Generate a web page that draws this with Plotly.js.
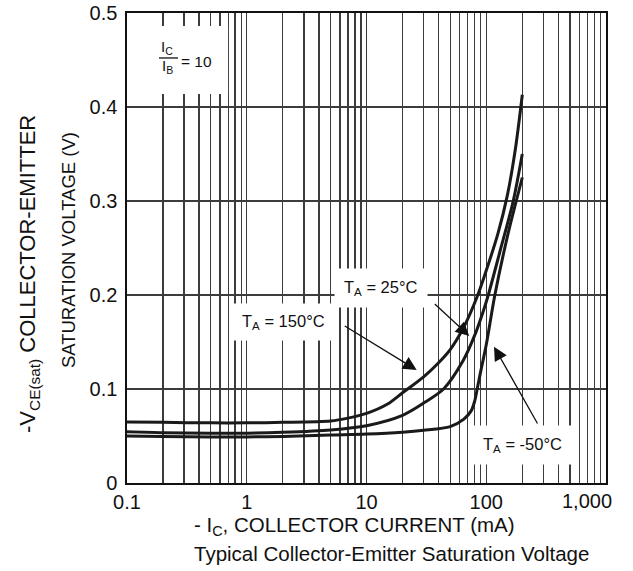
<!DOCTYPE html>
<html>
<head>
<meta charset="utf-8">
<script src="https://cdn.plot.ly/plotly-3.0.1.min.js"></script>
<style>
html,body{margin:0;padding:0;background:#fff;}
#chart{width:633px;height:571px;}
</style>
</head>
<body>
<div id="chart"></div>
<script>
// ---- data (collector current in mA, saturation voltage in V) ----
var ic150  = [0.1, 0.2, 0.5, 1, 2, 5, 7, 10, 15, 20, 30, 40, 50, 65, 85, 100, 125, 150, 175, 200];
var vce150 = [0.065, 0.0645, 0.064, 0.064, 0.0645, 0.066, 0.069, 0.074, 0.084, 0.096, 0.113, 0.128, 0.142, 0.166, 0.200, 0.226, 0.265, 0.306, 0.355, 0.413];

var ic25  = [0.1, 0.2, 0.5, 1, 2, 5, 10, 20, 30, 44, 64, 80, 94, 104, 130, 168, 200];
var vce25 = [0.0545, 0.0535, 0.053, 0.053, 0.054, 0.0565, 0.061, 0.072, 0.085, 0.100, 0.130, 0.157, 0.182, 0.200, 0.246, 0.300, 0.350];

var icm50  = [0.1, 0.2, 0.5, 1, 2, 5, 10, 20, 30, 50, 65, 75, 80, 84, 90, 100, 118, 150, 178, 200];
var vcem50 = [0.050, 0.0495, 0.049, 0.049, 0.0495, 0.051, 0.052, 0.054, 0.056, 0.060, 0.068, 0.077, 0.087, 0.100, 0.119, 0.147, 0.200, 0.262, 0.300, 0.325];

var xTickVals   = [0.1, 1, 10, 100, 1000];
var xTickLabels = ['0.1', '1', '10', '100', '1,000'];
var yTickVals   = [0, 0.1, 0.2, 0.3, 0.4, 0.5];
var yTickLabels = ['0', '0.1', '0.2', '0.3', '0.4', '0.5'];

// ---- grid values for the log axis (1..9 per decade) ----
var gridVals = [], gridText = [];
[0.1, 1, 10, 100].forEach(function (d) {
  for (var m = 1; m <= 9; m++) {
    var v = +(d * m).toPrecision(3);
    gridVals.push(v);
    var k = xTickVals.indexOf(v);
    gridText.push(k >= 0 ? xTickLabels[k] : '');
  }
});
gridVals.push(1000); gridText.push(''); // last label placed as annotation (kept inside the frame)

var FONT = 'Liberation Sans, Arial, sans-serif';
var INK = '#111';
var curve = {color: '#1a1a1a', width: 3, shape: 'spline', smoothing: 0.8};

var traces = [
  {x: ic150, y: vce150, mode: 'lines', line: curve, name: 'TA = 150°C'},
  {x: ic25,  y: vce25,  mode: 'lines', line: curve, name: 'TA = 25°C'},
  {x: icm50, y: vcem50, mode: 'lines', line: curve, name: 'TA = -50°C'}
];

var gridColor = '#3c3c3c';
var arrowStyle = {showarrow: true, arrowhead: 2, arrowsize: 2.1, arrowwidth: 1.3, arrowcolor: INK, text: ''};
function arrow(x, y, ax, ay) {
  return Object.assign({xref: 'x', yref: 'y', axref: 'x', ayref: 'y', x: x, y: y, ax: ax, ay: ay}, arrowStyle);
}

var layout = {
  width: 633, height: 571,
  margin: {l: 127, r: 27, t: 13, b: 88, pad: 0},
  paper_bgcolor: '#fff', plot_bgcolor: '#fff',
  showlegend: false,
  font: {family: FONT, size: 20, color: INK},
  xaxis: {
    type: 'log', range: [-1, 3],
    tickmode: 'array', tickvals: gridVals, ticktext: gridText, tickangle: 0,
    ticks: '', showgrid: true, gridcolor: gridColor, gridwidth: 1.4,
    showline: true, linecolor: INK, linewidth: 1.6, mirror: true,
    zeroline: false, tickfont: {family: FONT, size: 20, color: INK},
    ticklabelstandoff: 0
  },
  yaxis: {
    range: [0, 0.5],
    tickmode: 'array', tickvals: yTickVals, ticktext: yTickLabels, tickangle: 0,
    ticks: '', showgrid: true, gridcolor: gridColor, gridwidth: 1.4,
    showline: true, linecolor: INK, linewidth: 1.6, mirror: true,
    zeroline: false, tickfont: {family: FONT, size: 20, color: INK},
    ticklabelstandoff: 4
  },
  shapes: [
    // white box behind IC/IB label
    {type: 'rect', xref: 'paper', yref: 'paper', x0: 0.048, x1: 0.211, y0: 0.8277, y1: 0.9723,
     fillcolor: '#ffffff', line: {width: 0}, layer: 'above'},
    // fraction bar
    {type: 'line', xref: 'paper', yref: 'paper', x0: 0.0668, x1: 0.1065, y0: 0.9043, y1: 0.9043,
     line: {color: INK, width: 1.3}, layer: 'above'}
  ],
  annotations: [
    // last x tick label
    {xref: 'x', yref: 'paper', x: 3, y: 0, xanchor: 'center', yanchor: 'top', xshift: -19, yshift: -5,
     text: xTickLabels[4], showarrow: false, font: {family: FONT, size: 20, color: INK}},
    // axis titles
    {xref: 'paper', yref: 'paper', x: 0.475, y: -0.091, xanchor: 'center', yanchor: 'middle',
     text: '- I<sub>C</sub>, COLLECTOR CURRENT (mA)', showarrow: false, font: {family: FONT, size: 20.5, color: INK}},
    {xref: 'paper', yref: 'paper', x: 0.553, y: -0.151, xanchor: 'center', yanchor: 'middle',
     text: 'Typical Collector-Emitter Saturation Voltage', showarrow: false, font: {family: FONT, size: 20.5, color: INK}},
    {xref: 'paper', yref: 'paper', x: -0.2046, y: 0.4447, xanchor: 'center', yanchor: 'middle', textangle: -90,
     text: '-V<sub>CE(sat)</sub> COLLECTOR-EMITTER', showarrow: false, font: {family: FONT, size: 22, color: INK}},
    {xref: 'paper', yref: 'paper', x: -0.123, y: 0.4957, xanchor: 'center', yanchor: 'middle', textangle: -90,
     text: 'SATURATION VOLTAGE (V)', showarrow: false, font: {family: FONT, size: 18.5, color: INK}},
    // IC / IB = 10
    {xref: 'x', yref: 'y', x: -0.663, y: 0.4635, text: 'I<sub>C</sub>', showarrow: false,
     font: {family: FONT, size: 15, color: INK}},
    {xref: 'x', yref: 'y', x: -0.663, y: 0.4435, text: 'I<sub>B</sub>', showarrow: false,
     font: {family: FONT, size: 15, color: INK}},
    {xref: 'x', yref: 'y', x: -0.565, y: 0.4485, xanchor: 'left', text: '= 10', showarrow: false,
     font: {family: FONT, size: 15.5, color: INK}},
    // temperature labels
    {xref: 'x', yref: 'y', x: 0.303, y: 0.171, text: 'T<sub>A</sub> = 150°C', showarrow: false,
     bgcolor: '#fff', borderpad: 8, font: {family: FONT, size: 16.5, color: INK}},
    {xref: 'x', yref: 'y', x: 1.121, y: 0.2074, text: 'T<sub>A</sub> = 25°C', showarrow: false,
     bgcolor: '#fff', borderpad: 9, font: {family: FONT, size: 16.5, color: INK}},
    {xref: 'x', yref: 'y', x: 2.299, y: 0.0404, text: 'T<sub>A</sub> = -50°C', showarrow: false,
     bgcolor: '#fff', borderpad: 9, font: {family: FONT, size: 16.5, color: INK}},
    // arrows
    arrow(1.419, 0.1202, 0.806, 0.168),
    arrow(1.858, 0.1564, 1.558, 0.1918),
    arrow(2.065, 0.145, 2.435, 0.0617)
  ]
};

Plotly.newPlot('chart', traces, layout, {displayModeBar: false, staticPlot: true});
</script>
</body>
</html>
